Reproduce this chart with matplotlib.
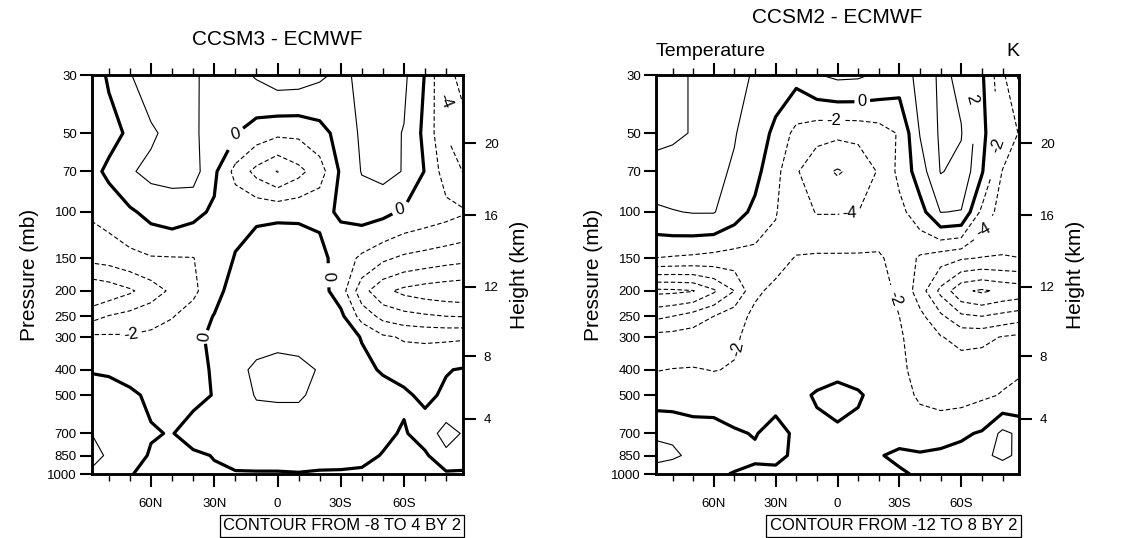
import numpy as np
import matplotlib
matplotlib.use("Agg")
import matplotlib.pyplot as plt
from matplotlib.ticker import FixedLocator, NullLocator, FixedFormatter

plt.rcParams["font.family"] = ["Liberation Sans", "DejaVu Sans"]
plt.rcParams["lines.dashed_pattern"] = [4.0, 2.2]

# grid: latitude (N positive) and pressure levels (mb)
lats = [90, 80, 70, 60, 50, 40, 30, 20, 10, 0, -10, -20, -30, -40, -50, -60, -70, -80, -90]
plevs = [30, 50, 70, 100, 150, 200, 250, 300, 400, 500, 700, 850, 1000]

# CCSM3 - ECMWF temperature difference (K), one row per pressure level, 90N -> 90S
ccsm3_p30 = [-1.0, 0.2, 1.9, 3.0, 3.1, 2.2, 1.5, 1.4, 2.2, 3.0, 2.9, 2.3, 1.6, 2.4, 3.0, 2.4, -0.1, -4.4, -8.4]
ccsm3_p50 = [-1.0, -0.6, 0.3, 1.7, 2.6, 2.3, 1.2, 0.05, -1.0, -1.6, -1.6, -0.8, 0.8, 2.3, 2.7, 1.9, -0.5, -4.0, -5.0]
ccsm3_p70 = [-0.8, 0.4, 1.8, 2.5, 2.6, 2.8, 0.4, -2.6, -4.6, -6.1, -4.6, -2.9, 0.3, 2.1, 2.6, 1.9, -0.1, -3.0, -4.3]
ccsm3_p100 = [-1.8, -1.2, -0.3, 0.6, 1.0, 0.5, -0.3, -0.5, -0.3, -0.3, -0.3, -0.4, 0.2, 0.8, 0.5, -0.3, -0.8, -1.3, -1.9]
ccsm3_p150 = [-3.5, -3.2, -2.6, -2.15, -2.1, -2.05, -1.0, 0.1, 0.8, 1.2, 1.1, 0.6, -0.9, -2.4, -3.6, -4.4, -4.8, -5.2, -5.5]
ccsm3_p200 = [-7.8, -7.2, -6.3, -5.0, -3.6, -2.4, -0.8, 1.0, 1.3, 1.4, 1.3, 0.8, -1.0, -5.2, -7.5, -8.5, -9.0, -9.3, -9.5]
ccsm3_p250 = [-5.0, -3.9, -3.3, -2.7, -2.1, -1.2, 0.1, 1.0, 1.4, 1.5, 1.4, 1.2, 0.5, -2.8, -4.6, -5.3, -5.7, -6.0, -6.1]
ccsm3_p300 = [-1.6, -1.7, -1.8, -1.6, -1.2, -0.6, 0.5, 1.2, 1.6, 1.6, 1.5, 1.2, 0.9, -0.1, -1.7, -2.2, -2.3, -2.3, -2.2]
ccsm3_p400 = [-0.1, -0.2, -0.6, -0.9, -0.8, -0.3, 0.1, 1.7, 2.2, 2.5, 2.4, 1.9, 1.2, 0.5, -0.2, -0.6, -0.6, -0.1, 0.2]
ccsm3_p500 = [0.8, 0.6, 0.3, -0.3, -0.7, -0.6, 0.1, 1.3, 2.1, 2.2, 2.2, 1.6, 1.3, 1.0, 0.8, 0.3, -0.4, 0.3, 0.6]
ccsm3_p700 = [2.1, 1.5, 1.0, 0.15, -0.1, 1.0, 1.2, 1.2, 1.2, 1.0, 1.0, 1.0, 1.0, 0.9, 0.4, -0.2, 0.9, 2.8, 1.6]
ccsm3_p850 = [2.6, 1.8, 0.9, -0.2, -0.6, -0.4, 0.1, 0.8, 1.0, 1.0, 0.9, 0.7, 0.6, 0.5, -0.1, -0.5, -0.3, 1.5, 0.7]
ccsm3_p1000 = [1.9, 1.0, 0.1, -0.5, -0.4, -0.5, -0.3, -0.2, -0.2, -0.2, -0.1, -0.2, -0.2, -0.3, -0.5, -0.6, -0.5, -0.3, -0.2]

# CCSM2 - ECMWF
ccsm2_p30 = [5.0, 4.6, 3.8, 3.1, 2.6, 1.8, 1.0, 0.6, 1.9, 2.4, 2.3, 1.7, 0.9, 2.6, 4.4, 3.6, 0.3, -3.6, -7.0]
ccsm2_p50 = [4.5, 4.3, 3.9, 3.0, 2.1, 1.2, -0.5, -2.6, -3.4, -3.6, -3.5, -3.0, -1.8, 2.1, 4.3, 4.1, 0.6, -2.5, -4.5]
ccsm2_p70 = [3.4, 3.2, 2.9, 2.4, 1.8, 0.6, -1.4, -3.8, -5.3, -6.2, -5.4, -3.8, -1.5, 1.0, 4.1, 3.5, 0.2, -4.1, -5.5]
ccsm2_p100 = [1.5, 1.9, 2.1, 2.1, 0.9, -0.5, -1.9, -3.2, -4.1, -4.1, -4.0, -3.0, -2.6, -0.8, 2.05, 1.9, -2.5, -5.0, -5.8]
ccsm2_p150 = [-2.0, -2.2, -2.4, -2.7, -2.9, -2.8, -2.6, -1.9, -1.7, -1.7, -1.7, -1.8, -2.6, -4.3, -5.2, -5.8, -6.1, -6.1, -6.0]
ccsm2_p200 = [-10.5, -10.4, -10.1, -8.3, -6.0, -2.3, -1.6, -1.3, -1.2, -1.2, -1.2, -1.4, -2.3, -5.0, -8.5, -11.6, -12.3, -11.6, -11.2]
ccsm2_p250 = [-6.6, -6.0, -5.1, -4.0, -2.7, -1.6, -1.3, -1.2, -1.1, -1.1, -1.1, -1.3, -2.0, -3.5, -5.6, -7.6, -8.0, -7.4, -6.8]
ccsm2_p300 = [-3.3, -3.2, -3.0, -2.7, -2.2, -1.5, -1.2, -1.1, -1.0, -1.0, -1.0, -1.2, -1.8, -2.8, -3.9, -4.6, -4.5, -3.9, -3.5]
ccsm2_p400 = [-2.1, -1.95, -1.9, -2.05, -1.9, -1.3, -1.1, -0.9, -0.8, -0.5, -0.7, -0.9, -1.5, -2.8, -3.0, -3.0, -2.8, -2.4, -2.1]
ccsm2_p500 = [-1.0, -1.1, -1.2, -1.2, -1.0, -0.8, -0.6, -0.5, 0.2, 0.6, 0.2, -0.6, -1.0, -2.4, -2.8, -2.7, -2.3, -1.9, -1.6]
ccsm2_p700 = [1.8, 1.7, 1.1, 1.0, 0.2, -0.1, 0.6, -0.3, -0.5, -0.3, -0.5, -0.4, -0.6, -0.5, -0.6, -0.3, 0.2, 2.5, 1.4]
ccsm2_p850 = [2.6, 2.3, 1.6, 1.0, 0.6, 0.3, 0.4, -0.3, -0.5, -0.5, -0.3, -0.1, 0.3, 0.1, 0.3, 0.6, 1.6, 2.4, 1.5]
ccsm2_p1000 = [1.2, 0.8, 0.6, 0.3, -0.1, -0.4, -0.4, -0.2, -0.2, -0.2, -0.2, -0.4, -0.2, 0.2, 0.5, 0.0, 0.4, 0.8, 0.2]

lat_ticks = [60, 30, 0, -30, -60]
lat_labels = ["60N", "30N", "0", "30S", "60S"]
p_ticks = [1000, 850, 700, 500, 400, 300, 250, 200, 150, 100, 70, 50, 30]
km_ticks = [4, 8, 12, 16, 20]


def std_pressure(h_km):
    # US standard atmosphere, mb
    if h_km <= 11:
        return 1013.25 * (1 - 6.5 * h_km / 288.15) ** 5.25588
    return 226.32 * np.exp(-(h_km - 11) * 1000 * 9.80665 / (287.05 * 216.65))


def draw_panel(ax, field, levels, label_spots):
    styles = ["dashed" if v < 0 else "solid" for v in levels]
    widths = [2.3 if v == 0 else 0.8 for v in levels]
    cs = ax.contour(lats, plevs, field, levels=levels, colors="black",
                    linestyles=styles, linewidths=widths)
    # a few labels placed like the original plot
    ax.clabel(cs, fmt="%d", fontsize=12, inline=True, inline_spacing=3, manual=label_spots)

    ax.set_yscale("log")
    ax.set_ylim(1000, 30)
    ax.set_xlim(88, -88)
    ax.yaxis.set_major_locator(FixedLocator(p_ticks))
    ax.yaxis.set_major_formatter(FixedFormatter([str(p) for p in p_ticks]))
    ax.yaxis.set_minor_locator(NullLocator())
    ax.set_xticks(lat_ticks)
    ax.set_xticklabels(lat_labels)
    ax.set_xticks(np.arange(-80, 81, 10), minor=True)
    ax.tick_params(axis="x", which="major", direction="out", length=9, width=1.5,
                   top=True, labelsize=9.5, pad=8)
    ax.tick_params(axis="x", which="minor", direction="out", length=5, width=1.0, top=True)
    ax.tick_params(axis="y", which="major", direction="out", length=9, width=1.5,
                   labelsize=9.5, pad=2)
    for s in ax.spines.values():
        s.set_linewidth(1.8)
    ax.set_ylabel("Pressure (mb)", fontsize=15, labelpad=6)

    ax2 = ax.twinx()
    ax2.set_yscale("log")
    ax2.set_ylim(1000, 30)
    ax2.yaxis.set_major_locator(FixedLocator([std_pressure(h) for h in km_ticks]))
    ax2.yaxis.set_major_formatter(FixedFormatter([str(h) for h in km_ticks]))
    ax2.yaxis.set_minor_locator(NullLocator())
    ax2.tick_params(axis="y", which="major", direction="out", length=9, width=1.5,
                    labelsize=9.5, pad=6)
    ax2.set_ylabel("Height (km)", fontsize=15, labelpad=8)
    for s in ax2.spines.values():
        s.set_linewidth(1.8)
    return ax2


fig = plt.figure(figsize=(11.33, 5.38), dpi=100)
ax_l = fig.add_axes([92 / 1133, 1 - 474 / 538, 371 / 1133, 399 / 538])
ax_r = fig.add_axes([656 / 1133, 1 - 474 / 538, 363 / 1133, 399 / 538])

ccsm3 = np.array([ccsm3_p30, ccsm3_p50, ccsm3_p70, ccsm3_p100, ccsm3_p150, ccsm3_p200, ccsm3_p250,
                  ccsm3_p300, ccsm3_p400, ccsm3_p500, ccsm3_p700, ccsm3_p850, ccsm3_p1000])
ccsm2 = np.array([ccsm2_p30, ccsm2_p50, ccsm2_p70, ccsm2_p100, ccsm2_p150, ccsm2_p200, ccsm2_p250,
                  ccsm2_p300, ccsm2_p400, ccsm2_p500, ccsm2_p700, ccsm2_p850, ccsm2_p1000])

spots_l = [(20, 50), (-58, 95), (-26, 175), (35, 300), (69, 300), (-80, 37)]
spots_r = [(-12, 38), (2, 48), (-6, 101), (-66, 36), (-78, 58), (-70, 112), (48, 333), (-28, 213)]
draw_panel(ax_l, ccsm3, np.arange(-8, 5, 2), spots_l)
draw_panel(ax_r, ccsm2, np.arange(-12, 9, 2), spots_r)

ax_l.text(0.5, 1.088, "CCSM3 - ECMWF", transform=ax_l.transAxes, ha="center", va="center", fontsize=15)
ax_r.text(0.5, 1.143, "CCSM2 - ECMWF", transform=ax_r.transAxes, ha="center", va="center", fontsize=15)
ax_r.text(0.0, 1.058, "Temperature", transform=ax_r.transAxes, ha="left", va="center", fontsize=14)
ax_r.text(1.0, 1.058, "K", transform=ax_r.transAxes, ha="right", va="center", fontsize=14)

box = dict(boxstyle="square,pad=0.2", fc="white", ec="black", lw=0.9)
ax_l.text(0.995, -0.13, "CONTOUR FROM -8 TO 4 BY 2", transform=ax_l.transAxes,
          ha="right", va="center", fontsize=12, bbox=box)
ax_r.text(0.995, -0.13, "CONTOUR FROM -12 TO 8 BY 2", transform=ax_r.transAxes,
          ha="right", va="center", fontsize=12, bbox=box)

fig.savefig("out.png", dpi=100)
